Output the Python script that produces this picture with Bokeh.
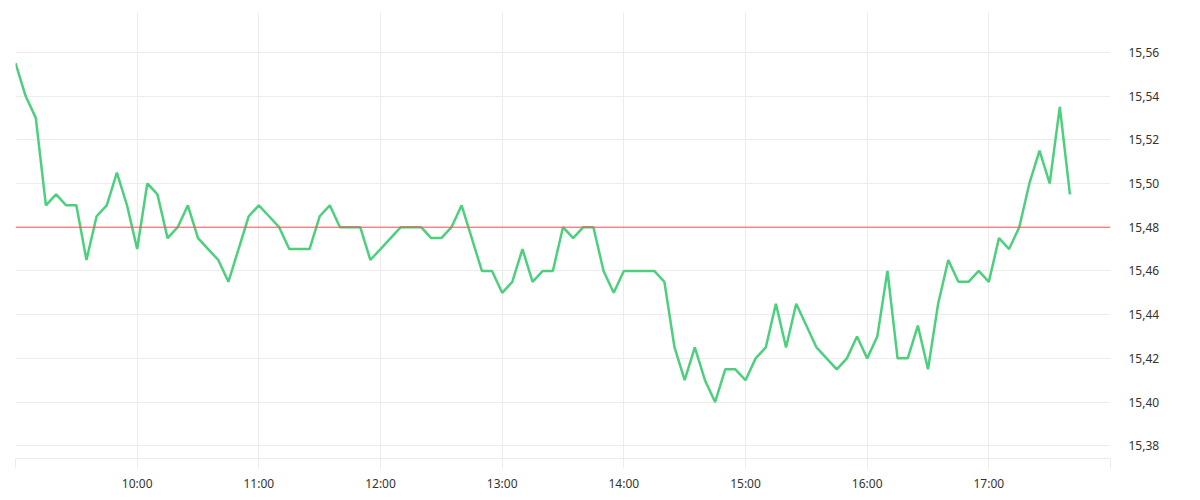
import pandas as pd
from bokeh.plotting import figure
from bokeh.models import (Range1d, FixedTicker, CustomJSTickFormatter, Span,
                          ColumnDataSource)
from bokeh.embed import file_html
from bokeh.resources import INLINE

# ---- data ----
start_time = "2024-01-02 09:00"
step = "5min"
prices = [
    15.555, 15.54, 15.53, 15.49, 15.495, 15.49, 15.49, 15.465, 15.485, 15.49,
    15.505, 15.49, 15.47, 15.50, 15.495, 15.475, 15.48, 15.49, 15.475, 15.47,
    15.465, 15.455, 15.47, 15.485, 15.49, 15.485, 15.48, 15.47, 15.47, 15.47,
    15.485, 15.49, 15.48, 15.48, 15.48, 15.465, 15.47, 15.475, 15.48,
    15.48, 15.48, 15.475, 15.475, 15.48, 15.49, 15.475, 15.46, 15.46, 15.45,
    15.455, 15.47, 15.455, 15.46, 15.46, 15.48, 15.475, 15.48, 15.48, 15.46,
    15.45, 15.46, 15.46, 15.46, 15.46, 15.455,
    15.425, 15.41, 15.425, 15.41, 15.40, 15.415, 15.415, 15.41, 15.42, 15.425,
    15.445, 15.425, 15.445, 15.435, 15.425, 15.42, 15.415, 15.42, 15.43, 15.42,
    15.43, 15.46, 15.42, 15.42, 15.435, 15.415, 15.445, 15.465, 15.455, 15.455,
    15.46, 15.455, 15.475,
    15.47, 15.48, 15.50, 15.515, 15.50, 15.535, 15.495,
]
reference_price = 15.48
hour_ticks = [9, 10, 11, 12, 13, 14, 15, 16, 17, 18]
price_ticks = [15.38, 15.40, 15.42, 15.44, 15.46, 15.48, 15.50, 15.52, 15.54, 15.56]
y_min, y_max = 15.3742, 15.5782

times = pd.date_range(start_time, periods=len(prices), freq=step)
day = pd.Timestamp(start_time).normalize()
tick_ms = [(day + pd.Timedelta(hours=h)).value / 1e6 for h in hour_ticks]

src = ColumnDataSource(dict(t=times, p=prices))

p = figure(width=1192, height=494, output_backend="svg", toolbar_location=None,
           x_axis_type="datetime", y_axis_location="right",
           x_range=Range1d(tick_ms[0], tick_ms[-1]),
           y_range=Range1d(y_min, y_max),
           min_border_left=15, min_border_top=12, min_border_right=82,
           min_border_bottom=30)
p.outline_line_color = None
p.background_fill_color = "white"
p.border_fill_color = "white"

p.line("t", "p", source=src, line_color="#4cd07d", line_width=2.5)
p.add_layout(Span(location=reference_price, dimension="width",
                  line_color="#ff5055", line_width=1))

grid_c = "#ececec"
xa = p.xaxis[0]
xa.ticker = FixedTicker(ticks=tick_ms, minor_ticks=[])
xa.formatter = CustomJSTickFormatter(code="""
const h = new Date(tick).getUTCHours();
if (h <= 9 || h >= 18) return "";
return h + ":00";
""")
xa.axis_line_color = grid_c
xa.major_tick_line_color = grid_c
xa.major_tick_out = 10
xa.major_tick_in = 0
xa.minor_tick_line_color = None
xa.major_label_standoff = 6

ya = p.yaxis[0]
ya.ticker = FixedTicker(ticks=price_ticks, minor_ticks=[])
ya.formatter = CustomJSTickFormatter(code="return tick.toFixed(2).replace('.', ',');")
ya.axis_line_color = None
ya.major_tick_line_color = None
ya.minor_tick_line_color = None
ya.major_tick_out = 0
ya.major_tick_in = 0
ya.major_label_standoff = 18

for ax in (xa, ya):
    ax.major_label_text_font = "Noto Sans"
    ax.major_label_text_font_size = "12px"
    ax.major_label_text_color = "#333333"

p.xgrid.grid_line_color = grid_c
p.ygrid.grid_line_color = grid_c

open("out.html", "w").write(file_html(p, INLINE))
